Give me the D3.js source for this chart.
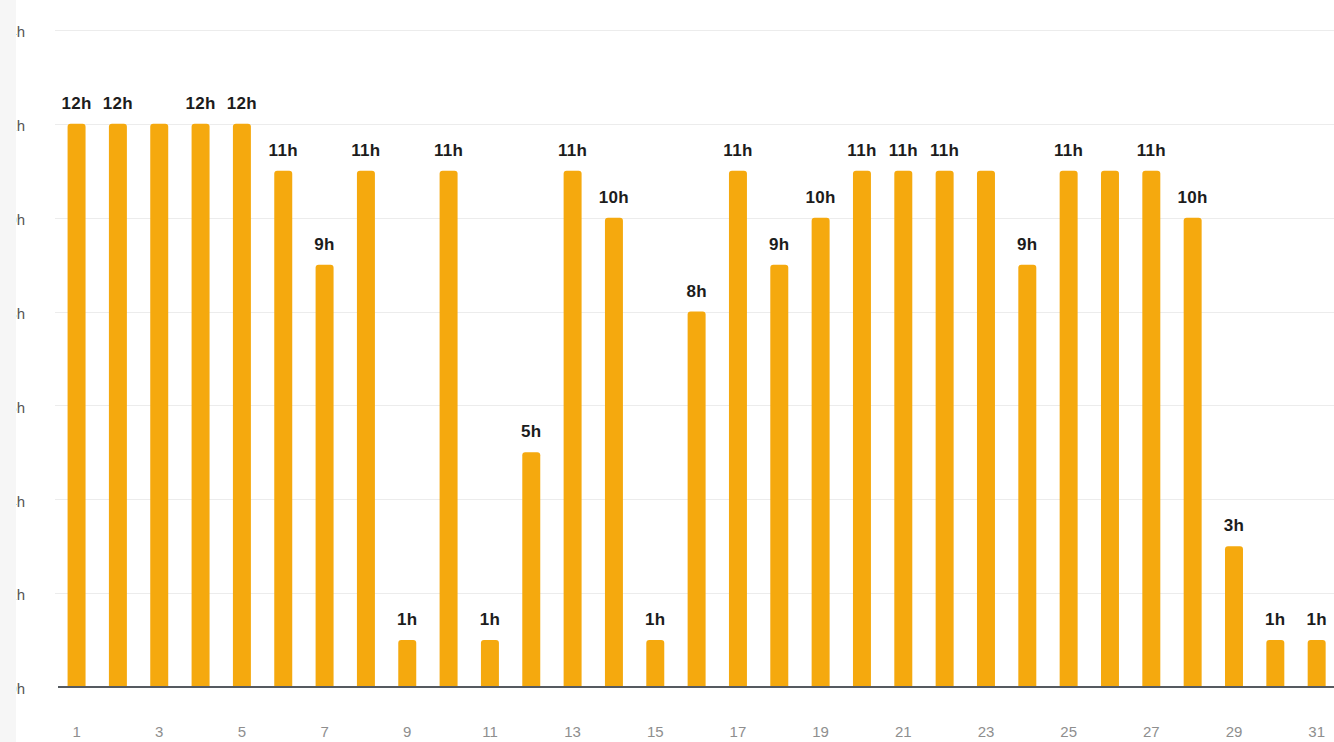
<!DOCTYPE html>
<html>
<head>
<meta charset="utf-8">
<script src="https://cdn.jsdelivr.net/npm/d3@7"></script>
<style>
  html, body { margin: 0; padding: 0; background: #ffffff; }
  svg { display: block; font-family: "Helvetica Neue", "Liberation Sans", Arial, sans-serif; }
</style>
</head>
<body>
<svg id="chart" width="1334" height="742"></svg>
<script>
// ---- data ----
const days = d3.range(1, 32);
const hours = [12, 12, 12, 12, 12, 11, 9, 11, 1, 11, 1, 5, 11, 10, 1, 8, 11, 9, 10, 11, 11, 11, 11, 9, 11, 11, 11, 10, 3, 1, 1];
// labels shown above bars ("" where the chart hides it)
const barLabels = ["12h", "12h", "", "12h", "12h", "11h", "9h", "11h", "1h", "11h", "1h", "5h", "11h", "10h", "1h", "8h", "11h", "9h", "10h", "11h", "11h", "11h", "", "9h", "11h", "", "11h", "10h", "3h", "1h", "1h"];
const xTickDays = [1, 3, 5, 7, 9, 11, 13, 15, 17, 19, 21, 23, 25, 27, 29, 31];
const yTicks = [0, 2, 4, 6, 8, 10, 12, 14];

const svg = d3.select("#chart");
const W = 1334, H = 742;

const x = d3.scaleBand().domain(days).range([56, 56 + 31 * 41.33]).paddingInner(0.565).paddingOuter(0.28);
const y = d3.scaleLinear().domain([0, 14]).range([687, 30]);

// gridlines
svg.append("g").selectAll("line").data(yTicks.filter(t => t > 0)).join("line")
  .attr("x1", 55).attr("x2", W)
  .attr("y1", d => Math.round(y(d)) + 0.5).attr("y2", d => Math.round(y(d)) + 0.5)
  .attr("stroke", "#ececec").attr("stroke-width", 1.2);

// y axis labels (clipped by the frame on the left)
const yAxisX = 25;
svg.append("defs").append("clipPath").attr("id", "yclip")
  .append("rect").attr("x", 16 - yAxisX).attr("y", 0).attr("width", 40).attr("height", H);
const yAxis = d3.axisLeft(y).tickValues(yTicks).tickFormat(d => d + "h").tickSize(0).tickPadding(0);
const gy = svg.append("g").attr("transform", `translate(${yAxisX},0)`).attr("clip-path", "url(#yclip)").call(yAxis);
gy.select(".domain").remove();
gy.selectAll("text").attr("fill", "#555").attr("font-size", 15).attr("dy", "0.45em")
  .attr("font-family", "'Liberation Sans', Arial, sans-serif");

// left frame strip
svg.append("rect").attr("x", 0).attr("y", 0).attr("width", 16).attr("height", H).attr("fill", "#f6f6f6");

// bars (rounded top)
const r = 3;
svg.append("g").selectAll("path").data(days).join("path")
  .attr("fill", "#f5a90e")
  .attr("d", (d, i) => {
    const x0 = x(d), w = x.bandwidth(), y0 = y(hours[i]), yb = y(0);
    return `M${x0},${yb}V${y0 + r}Q${x0},${y0} ${x0 + r},${y0}H${x0 + w - r}Q${x0 + w},${y0} ${x0 + w},${y0 + r}V${yb}Z`;
  });

// baseline
svg.append("line").attr("x1", 58).attr("x2", W).attr("y1", y(0)).attr("y2", y(0))
  .attr("stroke", "#555a60").attr("stroke-width", 2);

// bar value labels
svg.append("g").selectAll("text").data(days.filter((d, i) => barLabels[i] !== "")).join("text")
  .attr("x", d => x(d) + x.bandwidth() / 2)
  .attr("y", d => y(hours[d - 1]) - 15)
  .attr("text-anchor", "middle")
  .attr("font-size", 17).attr("font-weight", "bold").attr("fill", "#1c1c1c")
  .attr("letter-spacing", 0.3)
  .attr("font-family", "'Liberation Sans', Arial, sans-serif")
  .text(d => barLabels[d - 1]);

// x axis labels
const xAxis = d3.axisBottom(x).tickValues(xTickDays).tickSize(0).tickPadding(0);
const gx = svg.append("g").attr("transform", "translate(0,737)").call(xAxis);
gx.select(".domain").remove();
gx.selectAll("text").attr("fill", "#8e8e8e").attr("font-size", 15).attr("dy", "0")
  .attr("font-family", "'Liberation Sans', Arial, sans-serif");
</script>
</body>
</html>
